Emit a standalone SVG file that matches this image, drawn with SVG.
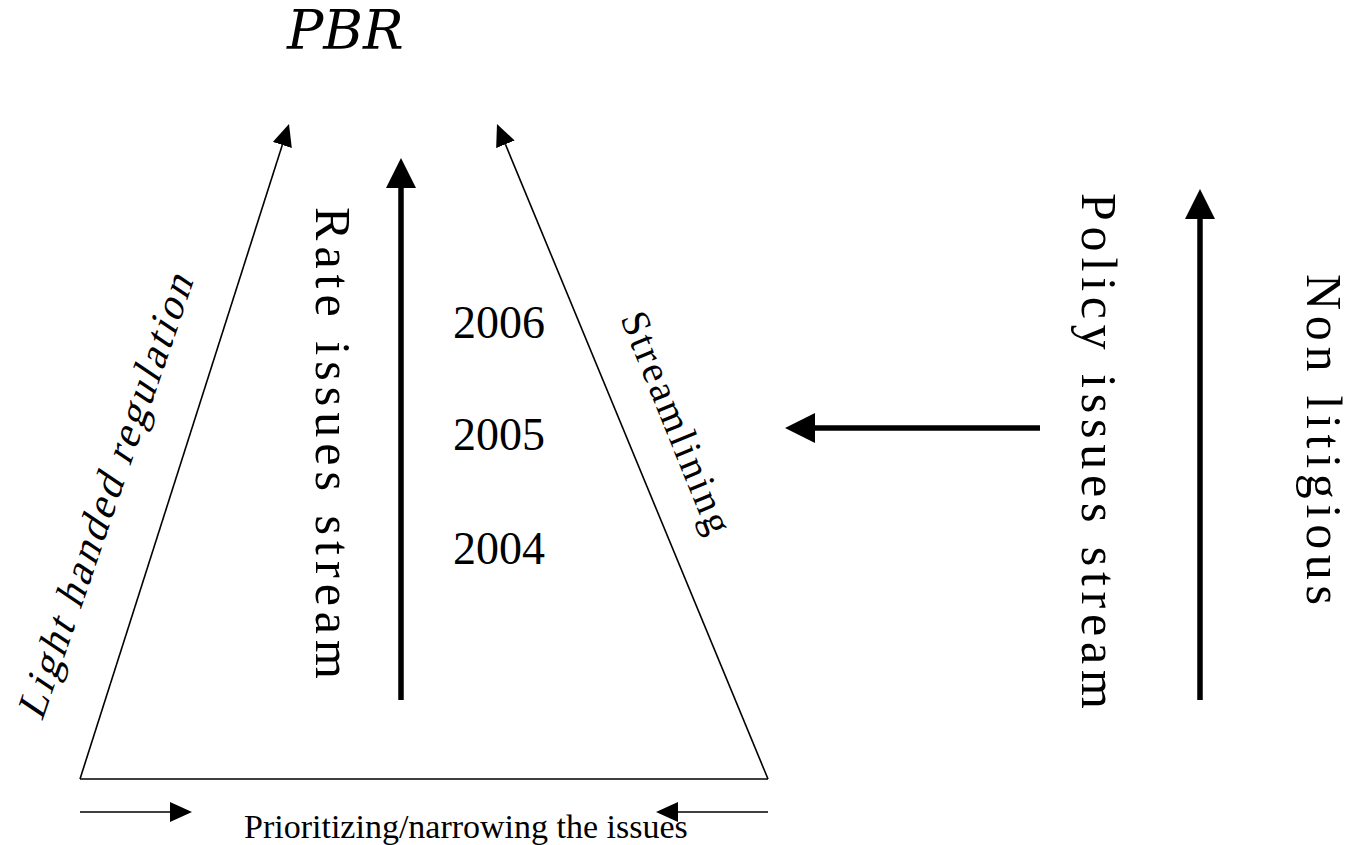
<svg xmlns="http://www.w3.org/2000/svg" width="1355" height="845" viewBox="0 0 1355 845">
<style>
  .serif { font-family: "Liberation Serif", "Times New Roman", serif; fill: #000; }
  .big { font-size: 50px; }
  .year { font-size: 46px; }
  .thin { stroke: #000; stroke-width: 1.6; fill: none; }
  .thick { stroke: #000; stroke-width: 5.5; fill: none; }
</style>
<defs>
  <marker id="headThick" markerUnits="userSpaceOnUse" viewBox="0 0 30 30" markerWidth="30" markerHeight="30" refX="0" refY="15" orient="auto">
    <path d="M0,0 L30,15 L0,30 Z" fill="#000"/>
  </marker>
  <marker id="headThin" markerUnits="userSpaceOnUse" viewBox="0 0 22 20" markerWidth="22" markerHeight="20" refX="0" refY="10" orient="auto">
    <path d="M0,0 L22,10 L0,20 Z" fill="#000"/>
  </marker>
</defs>
<rect width="1355" height="845" fill="#fff"/>

<g id="title-pbr">
  <text x="287" y="49" font-size="54" font-style="italic" font-family="DejaVu Serif, Liberation Serif, serif">PBR</text>
</g>

<g id="connectors">
  <line id="trap-base" class="thin" x1="80" y1="779" x2="768" y2="779" stroke-width="2"/>
  <line id="trap-left" class="thin" x1="80" y1="779" x2="282.3" y2="145" marker-end="url(#headThin)"/>
  <line id="trap-right" class="thin" x1="768" y1="779" x2="505.4" y2="144.3" marker-end="url(#headThin)"/>
  <line id="rate-arrow" class="thick" x1="401" y1="700" x2="401" y2="188" marker-end="url(#headThick)"/>
  <line id="nonlit-arrow" class="thick" x1="1200" y1="700" x2="1200" y2="219" marker-end="url(#headThick)"/>
  <line id="policy-arrow" class="thick" x1="1040" y1="428" x2="815" y2="428" marker-end="url(#headThick)"/>
  <line id="bottom-left-arrow" class="thin" x1="80" y1="812" x2="170" y2="812" marker-end="url(#headThin)"/>
  <line id="bottom-right-arrow" class="thin" x1="768" y1="812" x2="678" y2="812" marker-end="url(#headThin)"/>
</g>

<g id="label-light-handed" transform="translate(42 722) rotate(-71) skewX(-15)">
  <text class="serif" x="0" y="0" font-size="42" textLength="466" lengthAdjust="spacing">Light handed regulation</text>
</g>
<g id="label-streamlining" transform="translate(620 318) rotate(68)">
  <text class="serif" x="0" y="0" font-size="40" textLength="236" lengthAdjust="spacing">Streamlining</text>
</g>
<g id="label-rate" transform="translate(316 207) rotate(90)">
  <text class="serif big" x="0" y="0" textLength="472" lengthAdjust="spacing">Rate issues stream</text>
</g>
<g id="years">
  <text class="serif year" x="453" y="338">2006</text>
  <text class="serif year" x="453" y="450">2005</text>
  <text class="serif year" x="453" y="564">2004</text>
</g>
<g id="label-policy" transform="translate(1082 193) rotate(90)">
  <text class="serif big" x="0" y="0" textLength="516" lengthAdjust="spacing">Policy issues stream</text>
</g>
<g id="label-non-litigious" transform="translate(1307 274) rotate(90)">
  <text class="serif big" x="0" y="0" textLength="331" lengthAdjust="spacing">Non litigious</text>
</g>
<g id="label-prioritizing">
  <text class="serif" x="244" y="838" font-size="34">Prioritizing/narrowing the issues</text>
</g>
</svg>
